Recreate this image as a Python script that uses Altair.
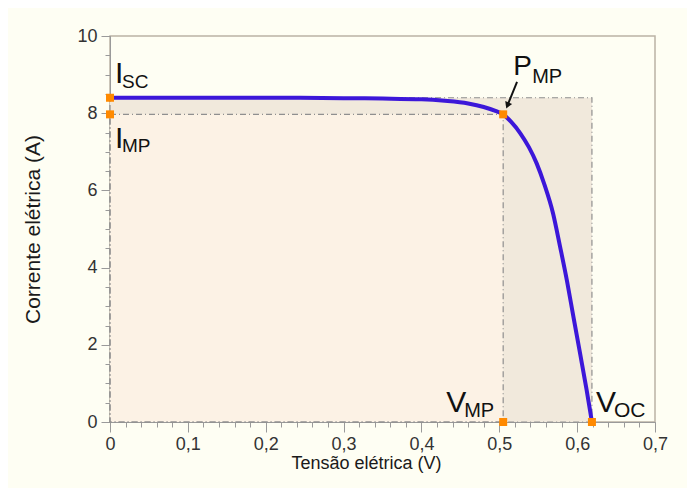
import altair as alt
import pandas as pd

# I-V curve
volts = [0.0, 0.1, 0.2, 0.3, 0.35, 0.40, 0.43, 0.46, 0.48, 0.495, 0.505, 0.515,
         0.527, 0.538, 0.548, 0.558, 0.569, 0.578, 0.587, 0.595, 0.604, 0.612, 0.619]
amps = [8.40, 8.40, 8.40, 8.39, 8.38, 8.36, 8.32, 8.25, 8.16, 8.06, 7.97, 7.78,
        7.48, 7.12, 6.70, 6.15, 5.41, 4.55, 3.65, 2.75, 1.75, 0.85, 0.0]

ISC = 8.40
IMP = 7.97
VMP = 0.505
VOC = 0.619

x_major = [0, 0.1, 0.2, 0.3, 0.4, 0.5, 0.6, 0.7]
y_major = [0, 2, 4, 6, 8, 10]
x_minor = [round(i * 0.02, 2) for i in range(36)]
y_minor = [i * 0.5 for i in range(21)]

# arrow to P_MP (start, end) in data units
arrow_x = [0.5228, 0.5105]
arrow_y = [8.81, 8.20]

BG = "#fefef3"
ORANGE = "#ff8a00"
BLUE = "#3c17d9"
FONT = "Liberation Sans"
AX = "#9a9a9a"

xs = alt.Scale(domain=[0, 0.7], nice=False, zero=False)
ys = alt.Scale(domain=[0, 10], nice=False, zero=False)

x_axis = alt.Axis(
    values=x_major,
    title="Tensão elétrica (V)",
    titleX=256, titleY=32, titleBaseline="top",
    titleFont=FONT, titleFontSize=18, titleFontWeight="normal", titleColor="#1a1a1a",
    labelExpr="replace(format(datum.value, '.1~f'), '.', ',')",
    labelFont=FONT, labelFontSize=18, labelColor="#333333", labelPadding=3,
    labelOverlap=False, labelFlush=False, labelBound=False,
    tickSize=10, tickColor=AX, domainColor=AX, grid=False, orient="bottom",
)
y_axis = alt.Axis(
    values=y_major,
    title="Corrente elétrica (A)",
    titleX=-67, titleY=193,
    titleFont=FONT, titleFontSize=21, titleFontWeight="normal", titleColor="#1a1a1a",
    format="d",
    labelFont=FONT, labelFontSize=18, labelColor="#333333", labelPadding=4,
    labelOverlap=False, labelFlush=False, labelBound=False,
    tickSize=9, tickColor=AX, domainColor=AX, grid=False, orient="left",
)
x_axis_minor = alt.Axis(values=x_minor, labels=False, title=None, tickSize=5, tickColor=AX,
                        domain=False, grid=False, orient="bottom")
y_axis_minor = alt.Axis(values=y_minor, labels=False, title=None, tickSize=5, tickColor=AX,
                        domain=False, grid=False, orient="left")

curve = pd.DataFrame({"V": volts, "I": amps})
pts = pd.DataFrame({"V": [0, 0, VMP, VMP, VOC], "I": [ISC, IMP, IMP, 0, 0]})
big = pd.DataFrame({"x": [0], "x2": [VOC], "y": [0], "y2": [ISC]})
small = pd.DataFrame({"x": [0], "x2": [VMP], "y": [0], "y2": [IMP]})

minor_layer = alt.Chart(big).mark_rect(opacity=0).encode(
    x=alt.X("x:Q", scale=xs, axis=x_axis_minor), x2="x2:Q",
    y=alt.Y("y:Q", scale=ys, axis=y_axis_minor), y2="y2:Q")

hatched = alt.Chart(big).mark_rect(fill="#f1e9dc").encode(
    x=alt.X("x:Q", scale=xs, axis=x_axis), x2="x2:Q",
    y=alt.Y("y:Q", scale=ys, axis=y_axis), y2="y2:Q")
peach = alt.Chart(small).mark_rect(fill="#fcf2e5").encode(
    x=alt.X("x:Q", scale=xs), x2="x2:Q", y=alt.Y("y:Q", scale=ys), y2="y2:Q")
dash = [6, 3, 1, 3]
out_big = alt.Chart(big).mark_rect(fillOpacity=0, stroke="#8f8f8f", strokeWidth=1.2, strokeDash=dash).encode(
    x=alt.X("x:Q", scale=xs), x2="x2:Q", y=alt.Y("y:Q", scale=ys), y2="y2:Q")
out_small = alt.Chart(small).mark_rect(fillOpacity=0, stroke="#8f8f8f", strokeWidth=1.2, strokeDash=dash).encode(
    x=alt.X("x:Q", scale=xs), x2="x2:Q", y=alt.Y("y:Q", scale=ys), y2="y2:Q")

line = alt.Chart(curve).mark_line(color=BLUE, strokeWidth=4, interpolate="monotone").encode(
    x=alt.X("V:Q", scale=xs), y=alt.Y("I:Q", scale=ys), order="V:Q")

points = alt.Chart(pts).mark_point(shape="square", filled=True, color=ORANGE, size=64, opacity=1).encode(
    x=alt.X("V:Q", scale=xs), y=alt.Y("I:Q", scale=ys))

arr = pd.DataFrame({"x": [arrow_x[0]], "y": [arrow_y[0]], "x2": [arrow_x[1]], "y2": [arrow_y[1]]})
arrow_line = alt.Chart(arr).mark_rule(color="#111111", strokeWidth=2).encode(
    x=alt.X("x:Q", scale=xs), y=alt.Y("y:Q", scale=ys), x2="x2:Q", y2="y2:Q")
arrow_head = alt.Chart(arr).mark_point(shape="triangle-down", filled=True, color="#111111", size=55, angle=22, opacity=1).encode(
    x=alt.X("x2:Q", scale=xs), y=alt.Y("y2:Q", scale=ys))


def label(v, i, text, size, dx, dy, align="left"):
    d = pd.DataFrame({"V": [v], "I": [i], "t": [text]})
    return alt.Chart(d).mark_text(font=FONT, fontSize=size, color="#111111", align=align,
                                  baseline="alphabetic", dx=dx, dy=dy).encode(
        x=alt.X("V:Q", scale=xs), y=alt.Y("I:Q", scale=ys), text="t:N")


texts = [
    label(0, ISC, "I", 30, 5, -15), label(0, ISC, "SC", 19, 12, -10),
    label(0, IMP, "I", 30, 5, 34), label(0, IMP, "MP", 19, 12, 38),
    label(VMP, IMP, "P", 28, 10, -39), label(VMP, IMP, "MP", 20, 29, -31),
    label(VMP, 0, "V", 30, -57, -10), label(VMP, 0, "MP", 20, -9, -5, "right"),
    label(VOC, 0, "V", 30, 4, -10), label(VOC, 0, "OC", 21, 22, -5),
]

main = alt.layer(hatched, peach, out_big, out_small, line, points, arrow_line, arrow_head, *texts)

chart = alt.layer(main, minor_layer).resolve_scale(x="independent", y="independent").properties(
    width=545, height=386,
    padding={"left": 102, "top": 28, "right": 32, "bottom": 66},
    autosize=alt.AutoSizeParams(type="none"),
    background=BG,
).configure_view(stroke="#bbb3a5", strokeWidth=1.5, fill=BG)

chart.save("out.html", embed_options={"renderer": "svg", "actions": False})
